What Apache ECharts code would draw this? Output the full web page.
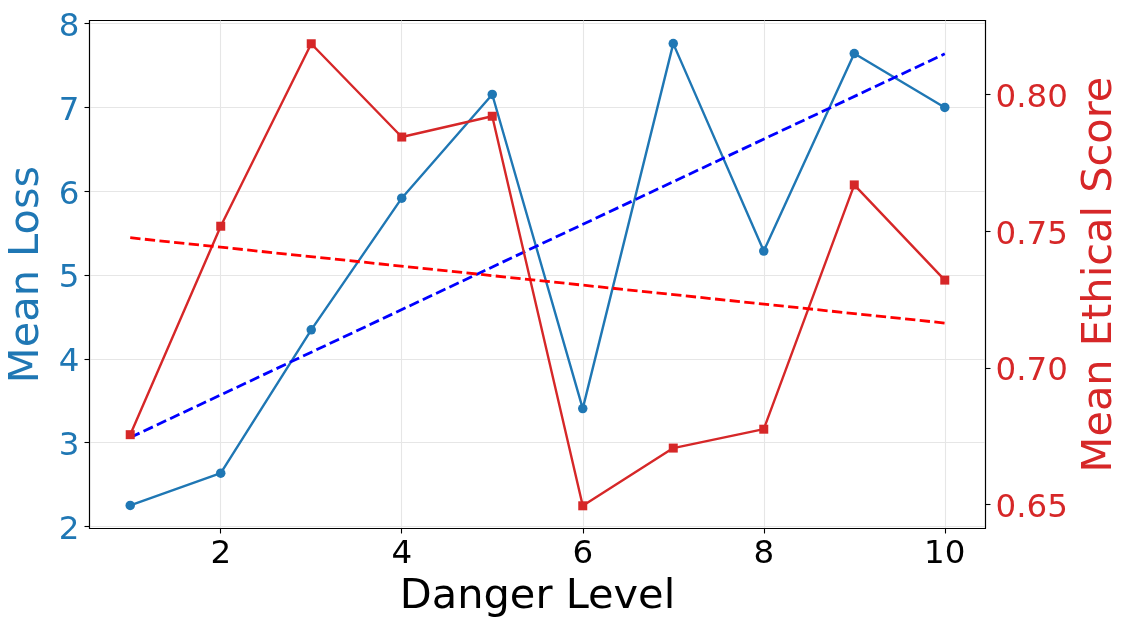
<!DOCTYPE html>
<html>
<head>
<meta charset="utf-8">
<script src="https://cdn.jsdelivr.net/npm/echarts@6/dist/echarts.min.js"></script>
<style>
html,body{margin:0;padding:0;background:#fff;}
#chart{width:1130px;height:630px;}
</style>
</head>
<body>
<div id="chart"></div>
<script>
// ---- data ----
const dangerLevels = [1, 2, 3, 4, 5, 6, 7, 8, 9, 10];
const meanLoss = [2.25, 2.635, 4.345, 5.917, 7.155, 3.405, 7.762, 5.286, 7.643, 7.0];
const meanEthical = [0.6756, 0.7518, 0.8185, 0.7844, 0.792, 0.6496, 0.6707, 0.6776, 0.7669, 0.7321];
const lossTrendX = [1, 10];
const lossTrendY = [3.06, 7.64];
const ethicalTrendX = [1, 10];
const ethicalTrendY = [0.7476, 0.7164];
const xTicks = [2, 4, 6, 8, 10];
const lossTicks = [2, 3, 4, 5, 6, 7, 8];
const ethicalTicks = [0.65, 0.70, 0.75, 0.80];

const pairs = (xs, ys) => xs.map((x, i) => [x, ys[i]]);

const FONT = 'DejaVu Sans';
const BLUE = '#1f77b4';
const RED = '#d62728';

const chart = echarts.init(document.getElementById('chart'), null, {renderer: 'canvas'});
chart.setOption({
  animation: false,
  backgroundColor: '#ffffff',
  grid: {
    left: 89.5, right: 144.5, top: 20.5, bottom: 101.5,
    outerBoundsMode: 'none',
    containLabel: false,
    show: true, borderColor: '#000', borderWidth: 1.1, backgroundColor: 'transparent'
  },
  xAxis: {
    type: 'value',
    min: 0.55, max: 10.45,
    name: 'Danger Level',
    nameLocation: 'middle',
    nameGap: 46,
    nameTextStyle: {fontFamily: FONT, fontSize: 41.5, color: '#000'},
    axisLine: {show: true, onZero: false, lineStyle: {color: '#000', width: 1.1}},
    axisTick: {show: true, length: 5, inside: false, customValues: xTicks, lineStyle: {color: '#000', width: 1.1}},
    axisLabel: {show: true, customValues: xTicks, margin: 10, fontFamily: FONT, fontSize: 32.5, color: '#000'},
    splitLine: {show: true, lineStyle: {color: '#e6e6e6', width: 1.1}}
  },
  yAxis: [
    {
      type: 'value',
      position: 'left',
      min: 1.974, max: 8.038,
      name: 'Mean Loss',
      nameLocation: 'middle',
      nameGap: 37,
      nameRotate: 90,
      nameTextStyle: {fontFamily: FONT, fontSize: 41.5, color: BLUE},
      axisLine: {show: true, onZero: false, lineStyle: {color: '#000', width: 1.1}},
      axisTick: {show: true, length: 5, customValues: lossTicks, lineStyle: {color: '#000', width: 1.1}},
      axisLabel: {show: true, customValues: lossTicks, margin: 10,
        formatter: v => '{a|' + v + '}',
        rich: {a: {fontFamily: FONT, fontSize: 32.5, color: BLUE, padding: [8, 0, 0, 0]}}},
      splitLine: {show: true, lineStyle: {color: '#e6e6e6', width: 1.1}}
    },
    {
      type: 'value',
      position: 'right',
      min: 0.6413, max: 0.8270,
      name: 'Mean Ethical Score',
      nameLocation: 'middle',
      nameGap: 91,
      nameRotate: 90,
      nameTextStyle: {fontFamily: FONT, fontSize: 41.5, color: RED},
      axisLine: {show: true, onZero: false, lineStyle: {color: '#000', width: 1.1}},
      axisTick: {show: true, length: 5, customValues: ethicalTicks, lineStyle: {color: '#000', width: 1.1}},
      axisLabel: {show: true, customValues: ethicalTicks, margin: 10,
        formatter: v => '{a|' + v.toFixed(2) + '}',
        rich: {a: {fontFamily: FONT, fontSize: 32.5, color: RED, padding: [8, 0, 0, 0]}}},
      splitLine: {show: false}
    }
  ],
  series: [
    {
      type: 'line', name: 'Mean Loss', yAxisIndex: 0,
      data: pairs(dangerLevels, meanLoss),
      symbol: 'circle', symbolSize: 9.5,
      lineStyle: {color: BLUE, width: 2.4},
      itemStyle: {color: BLUE},
      z: 2
    },
    {
      type: 'line', name: 'Loss trend', yAxisIndex: 0,
      data: pairs(lossTrendX, lossTrendY),
      symbol: 'none',
      lineStyle: {color: '#0000ff', width: 2.8, type: [10.3, 4.4]},
      z: 3
    },
    {
      type: 'line', name: 'Mean Ethical Score', yAxisIndex: 1,
      data: pairs(dangerLevels, meanEthical),
      symbol: 'rect', symbolSize: 9,
      lineStyle: {color: RED, width: 2.4},
      itemStyle: {color: RED},
      z: 4
    },
    {
      type: 'line', name: 'Ethical trend', yAxisIndex: 1,
      data: pairs(ethicalTrendX, ethicalTrendY),
      symbol: 'none',
      lineStyle: {color: '#ff0000', width: 2.8, type: [10.3, 4.4]},
      z: 5
    }
  ]
});
</script>
</body>
</html>
